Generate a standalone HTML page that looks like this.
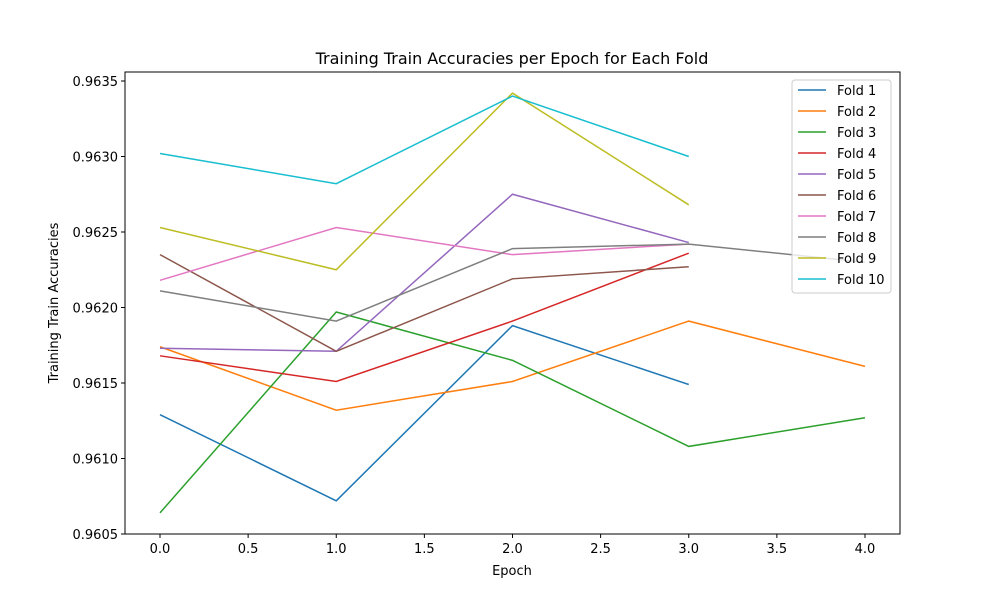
<!DOCTYPE html>
<html><head><meta charset="utf-8"><style>
body{margin:0;background:#fff;font-family:"Liberation Sans","DejaVu Sans",sans-serif;}
svg text{font-family:"DejaVu Sans","Liberation Sans",sans-serif;font-size:13px;fill:#000;}
</style></head><body>
<svg id="chart" width="1000" height="600">
<rect x="0" y="0" width="1000" height="600" fill="#fff"/>
<text x="512" y="64" text-anchor="middle" style="font-size:16px">Training Train Accuracies per Epoch for Each Fold</text>
<text x="512" y="575" text-anchor="middle">Epoch</text>
<text transform="translate(58,303) rotate(-90)" text-anchor="middle">Training Train Accuracies</text>
<g id="plot"></g>
</svg>
<script>
const xTicks=[0,0.5,1,1.5,2,2.5,3,3.5,4];
const yTicks=[0.9605,0.9610,0.9615,0.9620,0.9625,0.9630,0.9635];
const foldNames=["Fold 1","Fold 2","Fold 3","Fold 4","Fold 5","Fold 6","Fold 7","Fold 8","Fold 9","Fold 10"];
const colors=["#1f77b4","#ff7f0e","#2ca02c","#d62728","#9467bd","#8c564b","#e377c2","#7f7f7f","#bcbd22","#17becf"];
const fold1=[0.96129,0.96072,0.96188,0.96149];
const fold2=[0.96174,0.96132,0.96151,0.96191,0.96161];
const fold3=[0.96064,0.96197,0.96165,0.96108,0.96127];
const fold4=[0.96168,0.96151,0.96191,0.96236];
const fold5=[0.96173,0.96171,0.96275,0.96243];
const fold6=[0.96235,0.96171,0.96219,0.96227];
const fold7=[0.96218,0.96253,0.96235,0.96242];
const fold8=[0.96211,0.96191,0.96239,0.96242,0.96230];
const fold9=[0.96253,0.96225,0.96342,0.96268];
const fold10=[0.96302,0.96282,0.96340,0.96300];
const series=[fold1,fold2,fold3,fold4,fold5,fold6,fold7,fold8,fold9,fold10];

const L=125,R=900,T=72,B=534;
const xs=v=>160+v*(865-160)/4;
const ys=v=>534-(v-0.9605)/0.0005*75.5;
const NS="http://www.w3.org/2000/svg";
const g=document.getElementById('plot');
function mk(t,a){const e=document.createElementNS(NS,t);for(const k in a)e.setAttribute(k,a[k]);g.appendChild(e);return e;}
xTicks.forEach(v=>{
 const tk=mk('line',{x1:xs(v),x2:xs(v),y1:B,y2:B+4,stroke:'#000'});
 
 
 const t=mk('text',{x:xs(v),y:B+19,'text-anchor':'middle'});t.textContent=v.toFixed(1);
 
 
});
yTicks.forEach(v=>{
 const tk=mk('line',{x1:L-4,x2:L,y1:ys(v),y2:ys(v),stroke:'#000'});
 
 
 const t=mk('text',{x:L-7,y:ys(v)+5,'text-anchor':'end'});t.textContent=v.toFixed(4);
 
 
});
series.forEach((s,i)=>{
 const p=mk('polyline',{points:s.map((v,j)=>xs(j)+','+ys(v)).join(' '),fill:'none',stroke:colors[i],'stroke-width':1.5});
 
 
});
const frame=mk('rect',{x:L,y:T,width:R-L,height:B-T,fill:'none',stroke:'#000','stroke-width':1});


const lg=mk('rect',{x:792,y:80,width:99,height:213,rx:3,fill:'#fff','fill-opacity':0.8,stroke:'#ccc'});


foldNames.forEach((n,i)=>{
 const y=90+i*21;
 const l=mk('line',{x1:798,x2:826,y1:y,y2:y,stroke:colors[i],'stroke-width':1.5});
 
 
 const t=mk('text',{x:837,y:y+5});t.textContent=n;
 
 
});
</script>
</body></html>
